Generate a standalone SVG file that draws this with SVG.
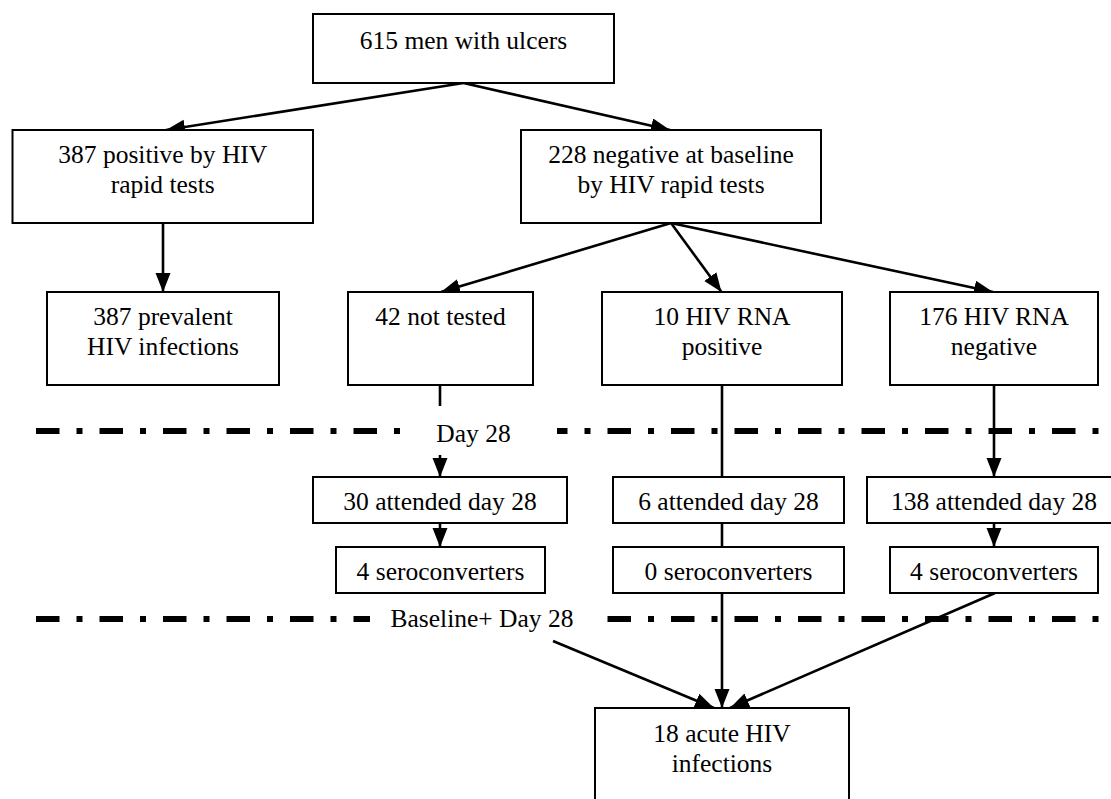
<svg xmlns="http://www.w3.org/2000/svg" width="1111" height="799" viewBox="0 0 1111 799">
<style>
.box{fill:#fff;stroke:#000;stroke-width:2}
.t{font-family:"Liberation Serif","Times New Roman",serif;font-size:25.5px;fill:#000;text-anchor:middle}
.c{stroke:#000;stroke-width:2.6;fill:none}
.a{marker-end:url(#ah)}
.dd{stroke:#000;stroke-width:6;fill:none;stroke-dasharray:23.5 17 6 17}
</style>
<defs>
<marker id="ah" markerUnits="userSpaceOnUse" markerWidth="20" markerHeight="16" refX="19" refY="7.5" orient="auto">
<path d="M0,0 L19,7.5 L0,15 z" fill="#000"/>
</marker>
</defs>
<rect width="1111" height="799" fill="#fff"/>
<g id="separators">
<line class="dd" x1="36" y1="431" x2="400" y2="431"/>
<line class="dd" x1="557" y1="431" x2="1100" y2="431" stroke-dashoffset="13"/>
<line class="dd" x1="36" y1="619" x2="370" y2="619"/>
<line class="dd" x1="607.5" y1="619" x2="1100" y2="619"/>
<text class="t" x="473.5" y="441.7">Day 28</text>
<text class="t" x="482" y="626.7">Baseline+ Day 28</text>
</g>
<g id="connectors">
<line class="c a" x1="463.5" y1="83" x2="166" y2="130"/>
<line class="c a" x1="463.5" y1="83" x2="670" y2="130"/>
<line class="c a" x1="163" y1="223" x2="163" y2="292"/>
<line class="c a" x1="671" y1="223" x2="441" y2="292"/>
<line class="c a" x1="671" y1="223" x2="721.5" y2="292"/>
<line class="c a" x1="671" y1="223" x2="993" y2="292"/>
<line class="c" x1="440" y1="385" x2="440" y2="406"/>
<line class="c a" x1="440" y1="455" x2="440" y2="477"/>
<line class="c a" x1="440" y1="523" x2="440" y2="547"/>
<line class="c" x1="722" y1="385" x2="722" y2="477"/>
<line class="c" x1="722" y1="523" x2="722" y2="547"/>
<line class="c a" x1="722" y1="593" x2="722" y2="708"/>
<line class="c a" x1="994" y1="385" x2="994" y2="477"/>
<line class="c a" x1="994" y1="523" x2="994" y2="547"/>
<line class="c a" x1="995" y1="593" x2="730" y2="708"/>
<line class="c a" x1="553" y1="641" x2="714" y2="708"/>
</g>
<g id="n615"><rect class="box" x="313" y="14" width="301" height="69"/><text class="t" x="463.5" y="49">615 men with ulcers</text></g>
<g id="n387pos"><rect class="box" x="12.5" y="130" width="300.5" height="93"/><text class="t" x="162.75" y="163">387 positive by HIV</text><text class="t" x="162.75" y="193">rapid tests</text></g>
<g id="n228"><rect class="box" x="521" y="130" width="300" height="93"/><text class="t" x="671" y="163">228 negative at baseline</text><text class="t" x="671" y="193">by HIV rapid tests</text></g>
<g id="n387prev"><rect class="box" x="47" y="292" width="232" height="93"/><text class="t" x="163" y="325">387 prevalent</text><text class="t" x="163" y="355">HIV infections</text></g>
<g id="n42"><rect class="box" x="348" y="292" width="185" height="93"/><text class="t" x="440.5" y="325">42 not tested</text></g>
<g id="n10"><rect class="box" x="602" y="292" width="240" height="93"/><text class="t" x="722" y="325">10 HIV RNA</text><text class="t" x="722" y="355">positive</text></g>
<g id="n176"><rect class="box" x="890" y="292" width="208" height="93"/><text class="t" x="994" y="325">176 HIV RNA</text><text class="t" x="994" y="355">negative</text></g>
<g id="n30"><rect class="box" x="313" y="477" width="254" height="46"/><text class="t" x="440" y="510">30 attended day 28</text></g>
<g id="n4a"><rect class="box" x="336" y="547" width="209" height="46"/><text class="t" x="440.5" y="580">4 seroconverters</text></g>
<g id="n6"><rect class="box" x="613" y="477" width="231" height="46"/><text class="t" x="728.5" y="510">6 attended day 28</text></g>
<g id="n0"><rect class="box" x="613" y="547" width="231" height="46"/><text class="t" x="728.5" y="580">0 seroconverters</text></g>
<g id="n138"><rect class="box" x="867" y="477" width="254" height="46"/><text class="t" x="994" y="510">138 attended day 28</text></g>
<g id="n4b"><rect class="box" x="890" y="547" width="208" height="46"/><text class="t" x="994" y="580">4 seroconverters</text></g>
<g id="n18"><rect class="box" x="595" y="708" width="254" height="110"/><text class="t" x="722" y="741.7">18 acute HIV</text><text class="t" x="722" y="771.7">infections</text></g>
</svg>
